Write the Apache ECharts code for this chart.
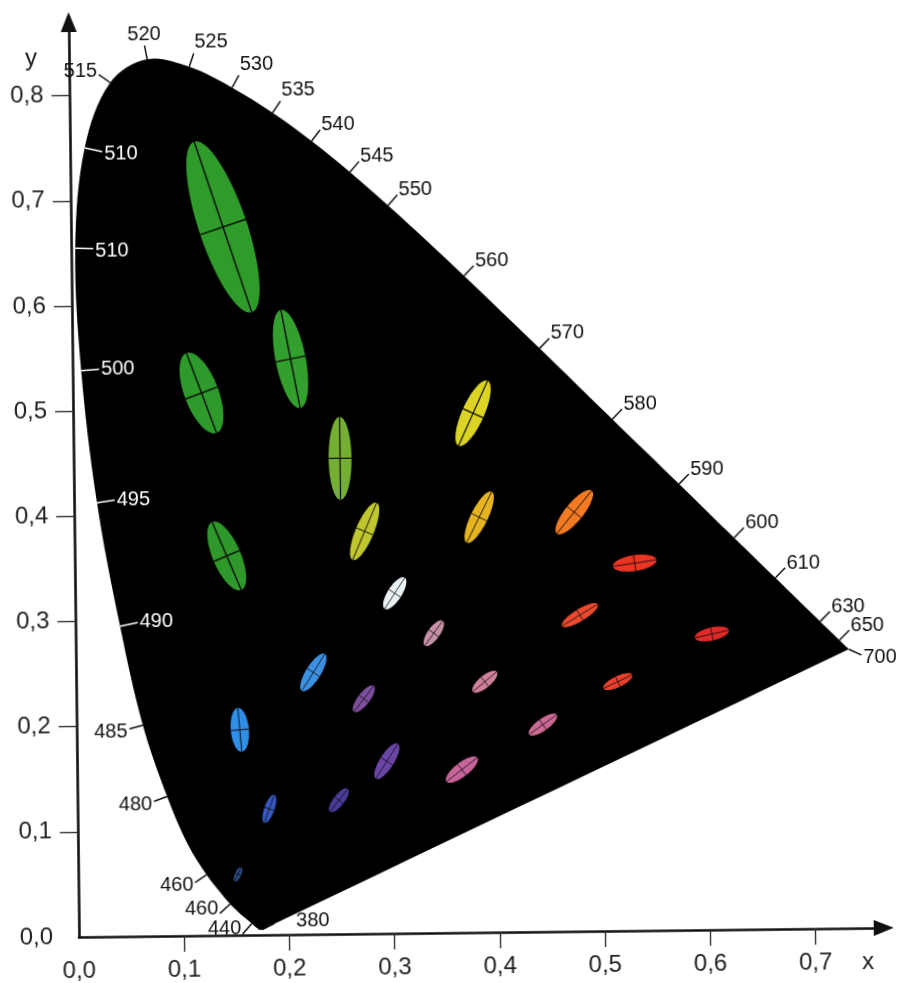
<!DOCTYPE html>
<html>
<head>
<meta charset="utf-8">
<script src="https://cdn.jsdelivr.net/npm/echarts@6/dist/echarts.min.js"></script>
<style>
  html, body { margin: 0; padding: 0; background: #fff; overflow: hidden; }
  #chart { width: 901px; height: 983px; transform: rotate(-0.65deg); transform-origin: 79px 937px; }
</style>
</head>
<body>
<div id="chart"></div>
<script>
// Spectral locus of the CIE 1931 chromaticity diagram (wavelength in nm, x, y)
const locusNm = [380, 385, 390, 395, 400, 405, 410, 415, 420, 425, 430, 435, 440, 445, 450, 455,
  460, 465, 470, 475, 480, 485, 490, 495, 500, 505, 510, 515, 520, 525, 530, 535, 540, 545,
  550, 555, 560, 565, 570, 575, 580, 585, 590, 595, 600, 605, 610, 615, 620, 625, 630, 635,
  640, 645, 650, 655, 660, 665, 670, 675, 680, 685, 690, 695, 700];
const locusX = [0.1741, 0.1740, 0.1738, 0.1736, 0.1733, 0.1730, 0.1726, 0.1721, 0.1714, 0.1703,
  0.1689, 0.1669, 0.1644, 0.1611, 0.1566, 0.1510, 0.1440, 0.1355, 0.1220, 0.1045, 0.0853,
  0.0630, 0.0424, 0.0218, 0.0082, 0.0039, 0.0139, 0.0389, 0.0743, 0.1142, 0.1547, 0.1929,
  0.2296, 0.2658, 0.3016, 0.3373, 0.3731, 0.4087, 0.4441, 0.4788, 0.5125, 0.5448, 0.5752,
  0.6029, 0.6270, 0.6482, 0.6658, 0.6801, 0.6915, 0.7006, 0.7079, 0.7140, 0.7190, 0.7230,
  0.7260, 0.7283, 0.7300, 0.7311, 0.7320, 0.7327, 0.7334, 0.7340, 0.7344, 0.7346, 0.7347];
const locusY = [0.0050, 0.0050, 0.0049, 0.0049, 0.0048, 0.0048, 0.0048, 0.0048, 0.0051, 0.0058,
  0.0069, 0.0086, 0.0109, 0.0138, 0.0177, 0.0227, 0.0297, 0.0399, 0.0578, 0.0868, 0.1327,
  0.2007, 0.2950, 0.4127, 0.5384, 0.6548, 0.7502, 0.8120, 0.8338, 0.8262, 0.8059, 0.7816,
  0.7543, 0.7243, 0.6923, 0.6589, 0.6245, 0.5896, 0.5547, 0.5202, 0.4866, 0.4544, 0.4242,
  0.3965, 0.3725, 0.3514, 0.3340, 0.3197, 0.3083, 0.2993, 0.2920, 0.2859, 0.2809, 0.2770,
  0.2740, 0.2717, 0.2700, 0.2689, 0.2680, 0.2673, 0.2666, 0.2660, 0.2656, 0.2654, 0.2653];

// Wavelength marks printed along the locus, and the text printed at each
const markNm = [380, 440, 460, 470, 480, 485, 490, 495, 500, 505, 510, 515, 520, 525, 530, 535,
  540, 545, 550, 560, 570, 580, 590, 600, 610, 630, 650, 700];
const markText = ['380', '440', '460', '460', '480', '485', '490', '495', '500', '510', '510', '515',
  '520', '525', '530', '535', '540', '545', '550', '560', '570', '580', '590', '600', '610',
  '630', '650', '700'];
// marks whose tick and text sit inside the diagram
const markInside = [490, 495, 500, 505, 510];

// MacAdam ellipses (drawn enlarged): centre, semi-axes, orientation of the major axis
const ellipseX = [0.1445, 0.2073, 0.1223, 0.1445, 0.2533, 0.2759, 0.3038, 0.3405, 0.2256, 0.1551,
  0.2733, 0.2945, 0.1823, 0.2485, 0.1518, 0.3885, 0.3657, 0.4432, 0.5149, 0.6048, 0.4795,
  0.5322, 0.4753, 0.3849, 0.3802];
const ellipseY = [0.6735, 0.5473, 0.5159, 0.3607, 0.4523, 0.3826, 0.3234, 0.2850, 0.2490, 0.1952,
  0.2234, 0.1638, 0.1198, 0.1272, 0.0578, 0.2383, 0.1550, 0.1969, 0.2370, 0.2813, 0.3006,
  0.3495, 0.3986, 0.3948, 0.4937];
const ellipseA = [0.0856, 0.0475, 0.0406, 0.0352, 0.0394, 0.0295, 0.0176, 0.0146, 0.0207, 0.0209,
  0.0156, 0.0197, 0.0143, 0.0139, 0.0076, 0.0148, 0.0186, 0.0162, 0.0152, 0.0166, 0.0200,
  0.0209, 0.0263, 0.0270, 0.0338];
const ellipseB = [0.0228, 0.0143, 0.0162, 0.0133, 0.0109, 0.0086, 0.0067, 0.0057, 0.0071, 0.0086,
  0.0057, 0.0067, 0.0048, 0.0052, 0.0029, 0.0057, 0.0067, 0.0057, 0.0052, 0.0062, 0.0057,
  0.0076, 0.0086, 0.0081, 0.0105];
const ellipseAngle = [108, 100.5, 110, 112.5, 90, 66.6, 56.6, 53.6, 57.5, 94.4, 51.8, 57.2, 70,
  51.4, 65, 39.2, 37.1, 35, 25, 12, 30.8, 8, 50.3, 63.3, 65.3];
const ellipseColor = ['#2e9b2b', '#33a02e', '#2e9a2c', '#2f982b', '#74ae32', '#bfc62e', '#e9f1f5',
  '#c690a8', '#3d8fe0', '#2f8ee8', '#7d4e9c', '#6b45a6', '#3658c0', '#4c3a98', '#2d4d8a',
  '#d0809c', '#c8649a', '#cc6a94', '#e8402c', '#e02a2a', '#ea4a2e', '#ea3424', '#f27a22',
  '#e6b422', '#dcd424'];

// Axis tick values
const xTicks = [0, 0.1, 0.2, 0.3, 0.4, 0.5, 0.6, 0.7];
const yTicks = [0, 0.1, 0.2, 0.3, 0.4, 0.5, 0.6, 0.7, 0.8];

const FONT = '"Liberation Sans", Arial, Helvetica, sans-serif';
// tick directions for the two ends of the locus, in screen space
const markDir = { 380: [0.9, -0.44], 700: [0.9, 0.42] };
const markGap = { 380: 24 };

const chart = echarts.init(document.getElementById('chart'), null, { renderer: 'canvas' });
const commaFmt = v => v.toFixed(1).replace('.', ',');

chart.setOption({
  animation: false,
  backgroundColor: '#fff',
  grid: { left: 79, right: 17.2, top: 22, bottom: 46, containLabel: false },
  xAxis: {
    type: 'value', min: 0, max: 0.765, interval: 0.1,
    splitLine: { show: false },
    axisLine: { show: true, onZero: false, symbol: ['none', 'triangle'], symbolSize: [16, 20],
      lineStyle: { color: '#111', width: 2.6 } },
    axisTick: { show: true, length: 16, customValues: xTicks.slice(1),
      lineStyle: { color: '#333', width: 1.4 } },
    axisLabel: { customValues: xTicks, margin: 22, fontSize: 24, color: '#222', fontFamily: FONT,
      formatter: commaFmt },
    name: 'x', nameLocation: 'end', nameGap: -16,
    nameTextStyle: { fontSize: 24, color: '#222', fontFamily: FONT, align: 'center',
      verticalAlign: 'top', padding: [22, 0, 0, 0] }
  },
  yAxis: {
    type: 'value', min: 0, max: 0.87, interval: 0.1,
    splitLine: { show: false },
    axisLine: { show: true, onZero: false, symbol: ['none', 'triangle'], symbolSize: [16, 20],
      lineStyle: { color: '#111', width: 2.6 } },
    axisTick: { show: true, length: 18, customValues: yTicks.slice(1),
      lineStyle: { color: '#333', width: 1.4 } },
    axisLabel: { customValues: yTicks, margin: 26, fontSize: 24, color: '#222', fontFamily: FONT,
      formatter: commaFmt },
    name: 'y', nameLocation: 'end', nameGap: -36,
    nameTextStyle: { fontSize: 24, color: '#222', fontFamily: FONT, align: 'right',
      verticalAlign: 'middle', padding: [0, 32, 0, 0] }
  },
  series: [
    {
      // black area enclosed by the spectral locus and the line of purples
      type: 'custom', coordinateSystem: 'cartesian2d', silent: true, z: 1,
      data: [[locusX[0], locusY[0]]],
      encode: { x: 0, y: 1 },
      renderItem: (params, api) => ({
        type: 'polygon',
        shape: { points: locusX.map((x, i) => api.coord([x, locusY[i]])), smooth: 0.35 },
        style: { fill: '#000' }
      })
    },
    {
      // ellipses with their major and minor axes
      type: 'custom', coordinateSystem: 'cartesian2d', silent: true, z: 2,
      data: ellipseX.map((x, i) => [x, ellipseY[i], ellipseA[i], ellipseB[i], ellipseAngle[i]]),
      encode: { x: 0, y: 1 },
      renderItem: (params, api) => {
        const cx = api.value(0), cy = api.value(1), a = api.value(2), b = api.value(3);
        const t0 = api.value(4) * Math.PI / 180;
        const c = Math.cos(t0), s = Math.sin(t0);
        const at = (u, v) => api.coord([cx + u * c - v * s, cy + u * s + v * c]);
        const pts = [];
        for (let k = 0; k < 96; k++) {
          const t = k / 96 * 2 * Math.PI;
          pts.push(at(a * Math.cos(t), b * Math.sin(t)));
        }
        const m1 = at(-a, 0), m2 = at(a, 0), n1 = at(0, -b), n2 = at(0, b);
        const lw = Math.max(0.8, Math.min(1.4, b * 110));
        return {
          type: 'group',
          children: [
            { type: 'polygon', shape: { points: pts }, style: { fill: ellipseColor[params.dataIndex] } },
            { type: 'line', shape: { x1: m1[0], y1: m1[1], x2: m2[0], y2: m2[1] },
              style: { stroke: '#0a0a0a', lineWidth: lw } },
            { type: 'line', shape: { x1: n1[0], y1: n1[1], x2: n2[0], y2: n2[1] },
              style: { stroke: '#0a0a0a', lineWidth: lw } }
          ]
        };
      }
    },
    {
      // wavelength ticks and their numbers
      type: 'custom', coordinateSystem: 'cartesian2d', silent: true, z: 3,
      data: markNm.map(nm => {
        const k = locusNm.indexOf(nm);
        return [locusX[k], locusY[k]];
      }),
      encode: { x: 0, y: 1 },
      renderItem: (params, api) => {
        const i = params.dataIndex, nm = markNm[i], k = locusNm.indexOf(nm);
        const p = api.coord([locusX[k], locusY[k]]);
        let dir;
        if (markDir[nm]) {
          const d = markDir[nm], l = Math.hypot(d[0], d[1]);
          dir = [d[0] / l, d[1] / l];
        } else {
          const p0 = api.coord([locusX[k - 1], locusY[k - 1]]);
          const p1 = api.coord([locusX[k + 1], locusY[k + 1]]);
          const tx = p1[0] - p0[0], ty = p1[1] - p0[1], l = Math.hypot(tx, ty);
          dir = [ty / l, -tx / l];
        }
        const inside = markInside.indexOf(nm) >= 0;
        if (inside) dir = [-dir[0], -dir[1]];
        const L = inside ? 18 : 14;
        const ex = p[0] + dir[0] * L, ey = p[1] + dir[1] * L;
        const gap = markGap[nm] || 2;
        const align = dir[0] > 0.2 ? 'left' : (dir[0] < -0.2 ? 'right' : 'center');
        let vAlign = 'middle';
        let ty;
        if (dir[1] < -0.8) { vAlign = 'bottom'; ty = ey - 1; }
        else if (dir[1] < 0) { ty = ey + 1 + dir[1] * 8; }
        else { ty = ey + (dir[1] < 0.6 ? 3 : -5); }
        const color = inside ? '#fff' : '#111';
        return {
          type: 'group',
          children: [
            { type: 'line', shape: { x1: p[0], y1: p[1], x2: ex, y2: ey },
              style: { stroke: color, lineWidth: 1.5 } },
            { type: 'text', x: ex + dir[0] * gap, y: ty,
              style: { text: markText[i], fill: color, font: '20px ' + FONT,
                align: align, verticalAlign: vAlign } }
          ]
        };
      }
    }
  ]
});
</script>
</body>
</html>
